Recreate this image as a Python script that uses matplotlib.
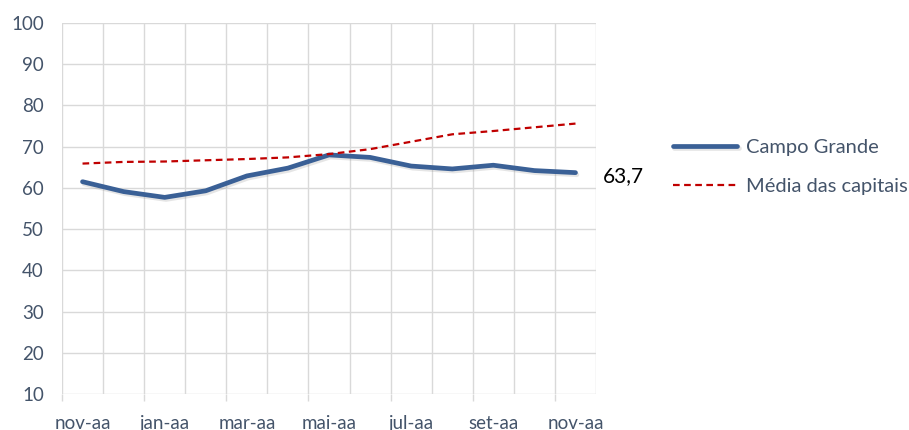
import matplotlib.pyplot as plt
import matplotlib.patheffects as pe

months = ["nov-aa", "dez-aa", "jan-aa", "fev-aa", "mar-aa", "abr-aa", "mai-aa",
          "jun-aa", "jul-aa", "ago-aa", "set-aa", "out-aa", "nov-aa"]
campo_grande = [61.5, 59.1, 57.7, 59.3, 62.9, 64.8, 68.0, 67.4, 65.3, 64.6, 65.5, 64.2, 63.7]
media_capitais = [65.9, 66.3, 66.4, 66.7, 67.0, 67.4, 68.2, 69.4, 71.2, 73.0, 73.8, 74.7, 75.6]
y_ticks = [10, 20, 30, 40, 50, 60, 70, 80, 90, 100]
last_label = "63,7"

plt.rcParams['font.family'] = ['Lato', 'DejaVu Sans']

fig = plt.figure(figsize=(9.09, 4.30), dpi=100)
ax = fig.add_axes([0.0682, 0.0837, 0.5875, 0.8628])

x = list(range(len(months)))
grid_c = '#D9D9D9'
text_c = '#44546A'

ax.plot(x, campo_grande, color='#3A6096', lw=3.4, solid_capstyle='round',
        label='Campo Grande',
        path_effects=[pe.SimpleLineShadow(offset=(1, -1.5), shadow_color='gray', alpha=0.2), pe.Normal()])
ax.plot(x, media_capitais, color='#C00000', lw=1.6, ls=(0, (3, 2)),
        label='Média das capitais')

ax.set_xlim(-0.5, len(months) - 0.5)
ax.set_ylim(10, 100)
ax.set_yticks(y_ticks)
ax.set_xticks(x[::2])
ax.set_xticklabels(months[::2])
ax.set_xticks([i - 0.5 for i in range(len(months) + 1)], minor=True)
ax.grid(True, which='minor', axis='x', color=grid_c, lw=1)
ax.grid(True, which='major', axis='y', color=grid_c, lw=1)
ax.set_axisbelow(True)
for s in ax.spines.values():
    s.set_visible(False)
ax.tick_params(axis='both', which='both', length=0, labelsize=13.5, colors=text_c)
ax.tick_params(axis='y', pad=13)
ax.tick_params(axis='x', pad=15)

sec = ax.secondary_xaxis('bottom')
sec.set_xticks([i - 0.5 for i in range(0, len(months) + 1, 2)])
sec.set_xticklabels([])
sec.tick_params(length=5, color=grid_c, width=1)
sec.spines['bottom'].set_visible(False)

ax.annotate(last_label, xy=(x[-1], campo_grande[-1]), xytext=(20, -2.5),
            textcoords='offset points', ha='left', va='center', fontsize=15, color='black')

leg = ax.legend(loc='upper left', bbox_to_anchor=(673 / 909, 1 - 139 / 430),
                bbox_transform=fig.transFigure, frameon=False, fontsize=14.5,
                handlelength=3.2, handletextpad=0.4, labelspacing=1.1, borderpad=0,
                borderaxespad=0)
for t in leg.get_texts():
    t.set_color(text_c)

fig.savefig('out.png', dpi=100)
